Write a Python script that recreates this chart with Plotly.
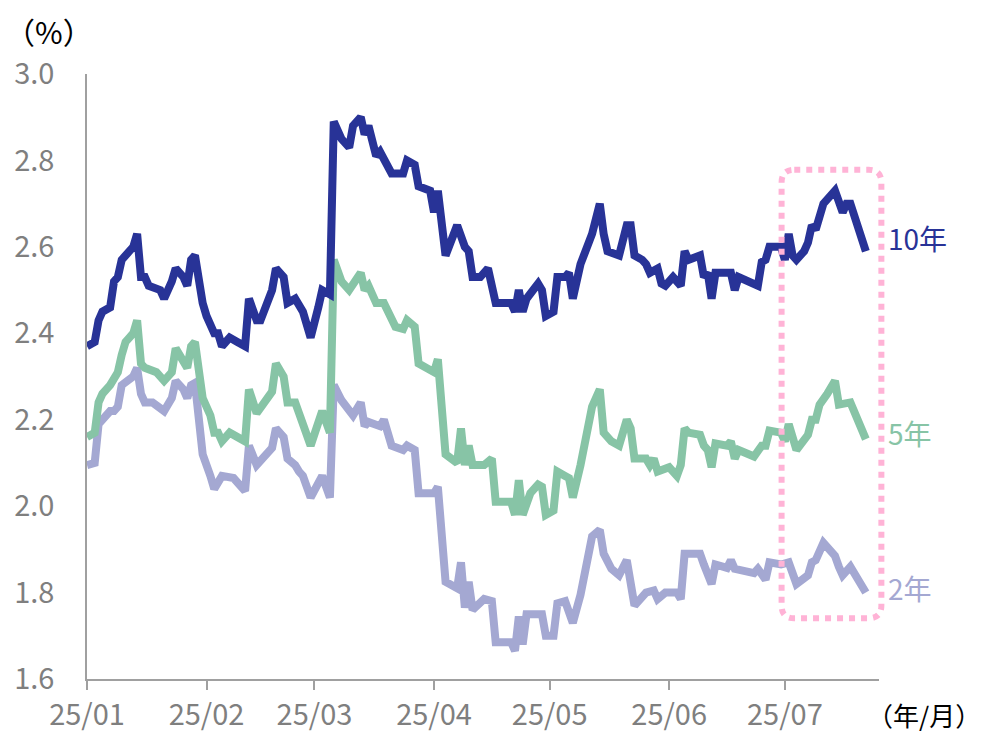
import plotly.graph_objects as go

# ---------------- data ----------------
dates_10y = ["2025-01-01","2025-01-03","2025-01-04","2025-01-05","2025-01-07","2025-01-08","2025-01-09","2025-01-10",
             "2025-01-12","2025-01-13","2025-01-14","2025-01-15","2025-01-16","2025-01-17","2025-01-20","2025-01-21",
             "2025-01-23","2025-01-24","2025-01-26","2025-01-27","2025-01-28","2025-01-29","2025-01-31","2025-02-01",
             "2025-02-03","2025-02-04","2025-02-05","2025-02-07","2025-02-09","2025-02-11","2025-02-12","2025-02-14",
             "2025-02-15","2025-02-18","2025-02-19","2025-02-21","2025-02-22","2025-02-24","2025-02-26","2025-02-28",
             "2025-03-02","2025-03-03","2025-03-05","2025-03-06","2025-03-08","2025-03-10","2025-03-11","2025-03-13",
             "2025-03-14","2025-03-15","2025-03-17","2025-03-18","2025-03-21","2025-03-24","2025-03-25","2025-03-27",
             "2025-03-28","2025-03-31","2025-04-01","2025-04-02","2025-04-04","2025-04-07","2025-04-09","2025-04-10",
             "2025-04-11","2025-04-13","2025-04-15","2025-04-17","2025-04-21","2025-04-22","2025-04-23","2025-04-24",
             "2025-04-25","2025-04-28","2025-04-29","2025-04-30","2025-05-02","2025-05-03","2025-05-05","2025-05-06",
             "2025-05-07","2025-05-09","2025-05-12","2025-05-14","2025-05-15","2025-05-16","2025-05-19","2025-05-21",
             "2025-05-22","2025-05-23","2025-05-25","2025-05-26","2025-05-27","2025-05-29","2025-05-30","2025-05-31",
             "2025-06-02","2025-06-04","2025-06-05","2025-06-06","2025-06-09","2025-06-10","2025-06-11","2025-06-12",
             "2025-06-13","2025-06-17","2025-06-18","2025-06-19","2025-06-24","2025-06-25","2025-06-26","2025-06-27",
             "2025-06-30","2025-07-01","2025-07-02","2025-07-03","2025-07-04","2025-07-06","2025-07-07","2025-07-08",
             "2025-07-09","2025-07-10","2025-07-11","2025-07-14","2025-07-16","2025-07-17","2025-07-18","2025-07-22"]
yield_10y = [2.37,2.38,2.43,2.45,2.46,2.52,2.53,2.57,
             2.59,2.60,2.63,2.53,2.53,2.51,2.50,2.48,
             2.52,2.55,2.53,2.51,2.57,2.58,2.47,2.44,
             2.40,2.40,2.37,2.39,2.38,2.37,2.48,2.43,
             2.43,2.50,2.55,2.53,2.47,2.48,2.45,2.39,
             2.46,2.50,2.49,2.89,2.85,2.83,2.88,2.90,
             2.86,2.88,2.81,2.82,2.77,2.77,2.80,2.79,
             2.74,2.73,2.68,2.73,2.58,2.65,2.60,2.59,
             2.53,2.53,2.55,2.47,2.47,2.45,2.50,2.45,
             2.48,2.515,2.50,2.44,2.45,2.53,2.53,2.54,
             2.48,2.56,2.63,2.70,2.63,2.59,2.58,2.65,
             2.65,2.58,2.57,2.56,2.54,2.55,2.515,2.51,
             2.53,2.51,2.59,2.57,2.58,2.53,2.54,2.48,
             2.54,2.54,2.50,2.53,2.51,2.565,2.57,2.60,
             2.60,2.57,2.63,2.58,2.57,2.59,2.61,2.65,
             2.64,2.68,2.70,2.73,2.68,2.70,2.70,2.59]

dates_5y = ["2025-01-01","2025-01-03","2025-01-04","2025-01-05","2025-01-07","2025-01-09","2025-01-10","2025-01-11",
            "2025-01-12","2025-01-13","2025-01-14","2025-01-15","2025-01-16","2025-01-19","2025-01-21","2025-01-23",
            "2025-01-24","2025-01-26","2025-01-27","2025-01-28","2025-01-29","2025-01-31","2025-02-02","2025-02-03",
            "2025-02-04","2025-02-05","2025-02-07","2025-02-11","2025-02-12","2025-02-14","2025-02-17","2025-02-18",
            "2025-02-19","2025-02-21","2025-02-22","2025-02-24","2025-02-25","2025-02-28","2025-03-03","2025-03-05",
            "2025-03-06","2025-03-08","2025-03-10","2025-03-12","2025-03-13","2025-03-14","2025-03-15","2025-03-17",
            "2025-03-19","2025-03-22","2025-03-24","2025-03-25","2025-03-27","2025-03-28","2025-04-01","2025-04-02",
            "2025-04-04","2025-04-07","2025-04-08","2025-04-09","2025-04-10","2025-04-11","2025-04-14","2025-04-16",
            "2025-04-17","2025-04-21","2025-04-22","2025-04-23","2025-04-24","2025-04-26","2025-04-28","2025-04-29",
            "2025-04-30","2025-05-02","2025-05-03","2025-05-05","2025-05-06","2025-05-07","2025-05-09","2025-05-12",
            "2025-05-14","2025-05-15","2025-05-17","2025-05-19","2025-05-21","2025-05-22","2025-05-23","2025-05-26",
            "2025-05-27","2025-05-28","2025-05-29","2025-06-01","2025-06-03","2025-06-04","2025-06-05","2025-06-06",
            "2025-06-09","2025-06-10","2025-06-11","2025-06-12","2025-06-13","2025-06-16","2025-06-17","2025-06-18",
            "2025-06-19","2025-06-23","2025-06-25","2025-06-26","2025-06-27","2025-06-30","2025-07-01","2025-07-02",
            "2025-07-04","2025-07-07","2025-07-08","2025-07-09","2025-07-10","2025-07-12","2025-07-14","2025-07-15",
            "2025-07-18","2025-07-22"]
yield_5y = [2.16,2.17,2.24,2.26,2.28,2.31,2.35,2.38,
            2.39,2.40,2.43,2.33,2.32,2.31,2.29,2.31,
            2.365,2.34,2.32,2.37,2.38,2.25,2.21,2.17,
            2.17,2.15,2.17,2.15,2.27,2.215,2.25,2.265,
            2.33,2.30,2.24,2.24,2.215,2.14,2.22,2.17,
            2.57,2.52,2.50,2.53,2.54,2.50,2.51,2.47,
            2.47,2.415,2.41,2.43,2.415,2.33,2.31,2.34,
            2.12,2.10,2.18,2.095,2.14,2.095,2.095,2.11,
            2.01,2.01,1.98,2.06,1.98,2.03,2.05,2.045,
            1.98,1.99,2.08,2.07,2.065,2.02,2.095,2.23,
            2.27,2.17,2.15,2.14,2.20,2.18,2.11,2.11,
            2.095,2.11,2.08,2.09,2.07,2.095,2.18,2.17,
            2.165,2.14,2.13,2.09,2.145,2.14,2.15,2.11,
            2.13,2.115,2.14,2.14,2.175,2.17,2.15,2.19,
            2.13,2.165,2.20,2.20,2.235,2.26,2.29,2.235,
            2.24,2.155]

dates_2y = ["2025-01-01","2025-01-03","2025-01-04","2025-01-05","2025-01-07","2025-01-08","2025-01-09","2025-01-10",
            "2025-01-12","2025-01-13","2025-01-14","2025-01-15","2025-01-16","2025-01-18","2025-01-21","2025-01-23",
            "2025-01-24","2025-01-26","2025-01-27","2025-01-28","2025-01-29","2025-01-31","2025-02-02","2025-02-03",
            "2025-02-05","2025-02-08","2025-02-11","2025-02-12","2025-02-14","2025-02-17","2025-02-18","2025-02-19",
            "2025-02-21","2025-02-22","2025-02-24","2025-02-25","2025-02-26","2025-02-28","2025-03-03","2025-03-05",
            "2025-03-06","2025-03-08","2025-03-10","2025-03-11","2025-03-13","2025-03-14","2025-03-15","2025-03-18",
            "2025-03-19","2025-03-21","2025-03-24","2025-03-25","2025-03-27","2025-03-28","2025-04-01","2025-04-02",
            "2025-04-04","2025-04-07","2025-04-08","2025-04-09","2025-04-10","2025-04-11","2025-04-14","2025-04-16",
            "2025-04-17","2025-04-21","2025-04-22","2025-04-23","2025-04-24","2025-04-25","2025-04-29","2025-04-30",
            "2025-05-02","2025-05-03","2025-05-05","2025-05-07","2025-05-09","2025-05-12","2025-05-14","2025-05-15",
            "2025-05-17","2025-05-19","2025-05-21","2025-05-23","2025-05-26","2025-05-28","2025-05-29","2025-05-31",
            "2025-06-03","2025-06-04","2025-06-05","2025-06-09","2025-06-10","2025-06-12","2025-06-13","2025-06-16",
            "2025-06-17","2025-06-18","2025-06-23","2025-06-24","2025-06-26","2025-06-27","2025-06-30","2025-07-02",
            "2025-07-04","2025-07-07","2025-07-08","2025-07-09","2025-07-11","2025-07-14","2025-07-15","2025-07-16",
            "2025-07-18","2025-07-22"]
yield_2y = [2.095,2.10,2.19,2.20,2.22,2.22,2.23,2.28,
            2.29,2.30,2.32,2.26,2.24,2.24,2.22,2.25,
            2.29,2.27,2.25,2.28,2.285,2.12,2.07,2.04,
            2.07,2.065,2.035,2.14,2.095,2.125,2.135,2.18,
            2.16,2.11,2.095,2.08,2.07,2.02,2.07,2.02,
            2.28,2.245,2.22,2.21,2.24,2.185,2.195,2.185,
            2.20,2.14,2.13,2.14,2.13,2.03,2.03,2.045,
            1.825,1.81,1.87,1.765,1.825,1.76,1.785,1.78,
            1.685,1.685,1.665,1.745,1.68,1.75,1.75,1.70,
            1.70,1.775,1.78,1.73,1.795,1.93,1.945,1.89,
            1.855,1.84,1.875,1.77,1.80,1.805,1.785,1.80,
            1.80,1.785,1.89,1.89,1.865,1.82,1.865,1.857,
            1.875,1.855,1.845,1.855,1.83,1.87,1.865,1.87,
            1.82,1.84,1.87,1.875,1.915,1.885,1.86,1.84,
            1.86,1.80]

series_names = ["2年", "5年", "10年"]
month_ticks = ["2025-01-01", "2025-02-01", "2025-03-01", "2025-04-01",
               "2025-05-01", "2025-06-01", "2025-07-01"]
month_labels = ["25/01", "25/02", "25/03", "25/04", "25/05", "25/06", "25/07"]
y_ticks = [1.6, 1.8, 2.0, 2.2, 2.4, 2.6, 2.8, 3.0]
y_labels = ["1.6", "1.8", "2.0", "2.2", "2.4", "2.6", "2.8", "3.0"]

# ---------------- styling ----------------
FONT = "Noto Sans CJK JP"
GRAY = "#7f7f7f"
AXIS = "#a0a0a0"
colors = {"2年": "#a4a8d2", "5年": "#87c4a6", "10年": "#283397"}
PINK = "#ffb3d6"

fig = go.Figure()
for name, xs, ys in [("2年", dates_2y, yield_2y), ("5年", dates_5y, yield_5y), ("10年", dates_10y, yield_10y)]:
    fig.add_trace(go.Scatter(x=xs, y=ys, mode="lines", name=name,
                             line=dict(color=colors[name], width=8), showlegend=False))

# right-side series labels
label_pos = {"10年": 0.7294, "5年": 0.407, "2年": 0.150}
for name in series_names:
    fig.add_annotation(x=1.0, xref="paper", xshift=7, xanchor="left",
                       y=label_pos[name], yref="paper", yanchor="middle",
                       text=name, showarrow=False,
                       font=dict(family=FONT, size=28, color=colors[name]))

# unit labels
fig.add_annotation(x=-0.048, xref="paper", xanchor="center", y=1.0716, yref="paper",
                   yanchor="middle", text="（%）", showarrow=False,
                   font=dict(family=FONT, size=30, color="#000000"))
fig.add_annotation(x=1.0, xref="paper", xshift=104, xanchor="right", y=-0.058, yref="paper",
                   yanchor="middle", text="（年/月）", showarrow=False,
                   font=dict(family=FONT, size=26, color="#000000"))

# pink dotted rounded box (highlight around July)
L, R, T, B = 0.877, 1.003, 0.8416, 0.1005
rx, ry = 0.016, 0.021
path = (f"M {L+rx},{T} L {R-rx},{T} Q {R},{T} {R},{T-ry} L {R},{B+ry} "
        f"Q {R},{B} {R-rx},{B} L {L+rx},{B} Q {L},{B} {L},{B+ry} "
        f"L {L},{T-ry} Q {L},{T} {L+rx},{T} Z")
fig.add_shape(type="path", path=path, xref="paper", yref="paper",
              line=dict(color=PINK, width=6, dash="dot"), layer="above")

fig.update_layout(
    width=990, height=732,
    margin=dict(l=87, r=111, t=74, b=53, autoexpand=False),
    paper_bgcolor="white", plot_bgcolor="white",
    font=dict(family=FONT, color=GRAY),
    xaxis=dict(type="date", range=["2025-01-01", "2025-07-25 10:00"],
               tickvals=month_ticks, ticktext=month_labels, automargin=False,
               ticks="outside", ticklen=9, tickwidth=1.5, tickcolor=AXIS,
               showline=True, linecolor=AXIS, linewidth=1.5,
               showgrid=False, zeroline=False, ticklabelstandoff=0,
               tickfont=dict(family=FONT, size=29, color=GRAY)),
    yaxis=dict(range=[1.6, 3.0], tickvals=y_ticks, ticktext=y_labels, automargin=False,
               ticks="", showline=True, linecolor=AXIS, linewidth=1.5,
               showgrid=False, zeroline=False, ticklabelstandoff=25,
               tickfont=dict(family=FONT, size=29, color=GRAY)),
)

fig.write_html("out.html")
